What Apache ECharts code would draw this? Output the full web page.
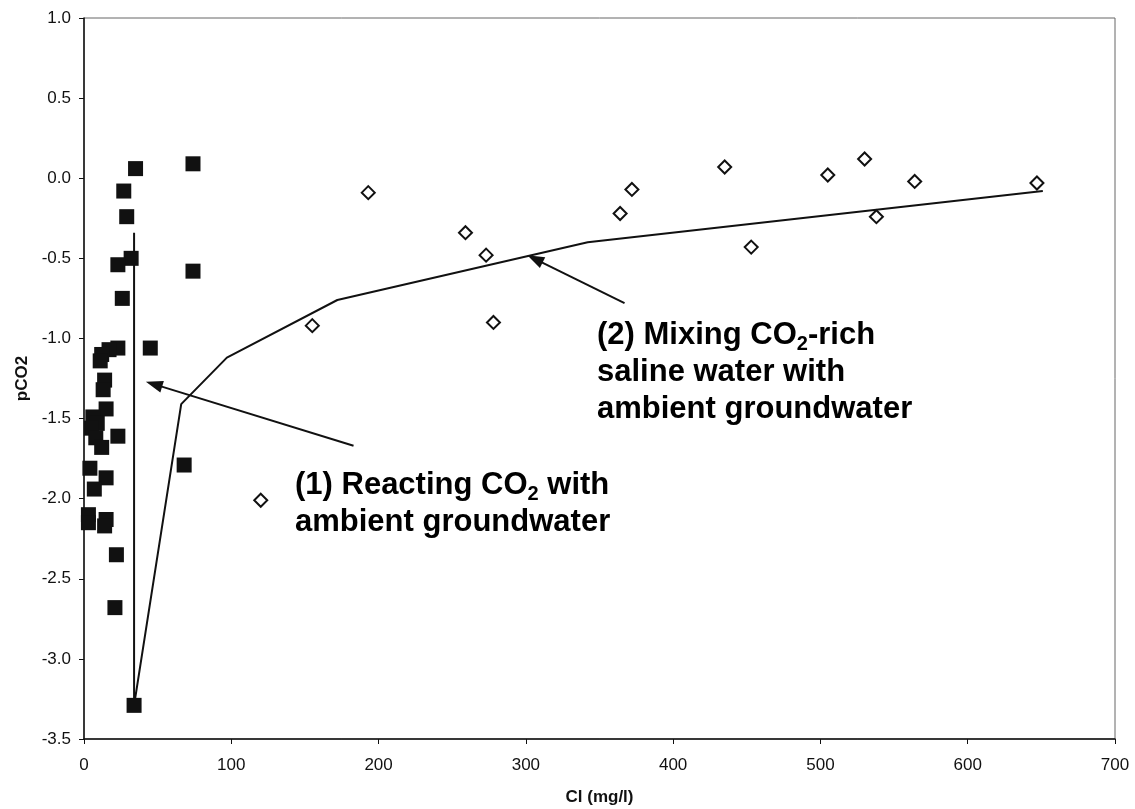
<!DOCTYPE html>
<html>
<head>
<meta charset="utf-8">
<script src="https://cdn.jsdelivr.net/npm/echarts@6/dist/echarts.min.js"></script>
<style>
  html, body { margin: 0; padding: 0; background: #fff; }
  #chart { width: 1135px; height: 809px; }
</style>
</head>
<body>
<div id="chart"></div>
<script>
// Samples affected by CO2 reaction (filled squares)
const reactCl   = [35, 74, 27, 29, 32, 23, 74, 26, 45, 23, 17, 12, 11, 14, 13, 15, 6, 9, 5, 8, 12, 23, 4, 15, 7, 68, 3, 3, 15, 14, 22, 21, 34];
const reactPco2 = [0.06, 0.09, -0.08, -0.24, -0.50, -0.54, -0.58, -0.75, -1.06, -1.06, -1.07, -1.10, -1.14, -1.26, -1.32, -1.44, -1.49, -1.53, -1.56, -1.62, -1.68, -1.61, -1.81, -1.87, -1.94, -1.79, -2.10, -2.15, -2.13, -2.17, -2.35, -2.68, -3.29];

// Saline-mixing samples (open diamonds)
const mixSampleCl   = [193, 259, 273, 372, 364, 155, 278, 435, 505, 530, 564, 647, 538, 453, 120];
const mixSamplePco2 = [-0.09, -0.34, -0.48, -0.07, -0.22, -0.92, -0.90, 0.07, 0.02, 0.12, -0.02, -0.03, -0.24, -0.43, -2.01];

// Reaction path: vertical at constant Cl
const reactPathCl   = [34, 34];
const reactPathPco2 = [-3.29, -0.34];

// Mixing curve
const mixCurveCl   = [34, 66, 97, 172, 342, 651];
const mixCurvePco2 = [-3.29, -1.41, -1.12, -0.76, -0.40, -0.08];

// Annotation arrows: [tail Cl, tail pCO2, head Cl, head pCO2]
const arrow1 = [183, -1.67, 42, -1.27];
const arrow2 = [367, -0.78, 301, -0.48];

// Axis ticks
const xTicks = { min: 0, max: 700, step: 100 };
const yTicks = { min: -3.5, max: 1.0, step: 0.5 };

const zip = (xs, ys) => xs.map((x, i) => [x, ys[i]]);

const labelFont = 'Liberation Sans, Arial, sans-serif';
const chart = echarts.init(document.getElementById('chart'), null, { renderer: 'canvas' });

const txt = { fontSize: 31, fontWeight: 'bold', fontFamily: labelFont, color: '#111', lineHeight: 37 };
const sub = { fontSize: 20, fontWeight: 'bold', fontFamily: labelFont, color: '#111', lineHeight: 22, verticalAlign: 'bottom' };

// Straight arrow with a solid triangular head, laid out in pixel space
function renderArrow(params, api) {
  const p1 = api.coord([api.value(0), api.value(1)]);
  const p2 = api.coord([api.value(2), api.value(3)]);
  const dx = p2[0] - p1[0], dy = p2[1] - p1[1];
  const len = Math.sqrt(dx * dx + dy * dy) || 1;
  const ux = dx / len, uy = dy / len;
  const headLen = 17, halfW = 6;
  const bx = p2[0] - ux * headLen, by = p2[1] - uy * headLen;
  return {
    type: 'group',
    children: [
      { type: 'line', shape: { x1: p1[0], y1: p1[1], x2: bx + ux * 2, y2: by + uy * 2 },
        style: { stroke: '#111', lineWidth: 2 } },
      { type: 'polygon',
        shape: { points: [[p2[0], p2[1]], [bx - uy * halfW, by + ux * halfW], [bx + uy * halfW, by - ux * halfW]] },
        style: { fill: '#111' } }
    ]
  };
}

chart.setOption({
  animation: false,
  backgroundColor: '#fff',
  grid: {
    left: 84, right: 20, top: 18, bottom: 70,
    containLabel: false, outerBoundsMode: 'none',
    show: true, borderColor: '#666', borderWidth: 1
  },
  xAxis: {
    type: 'value', min: xTicks.min, max: xTicks.max, interval: xTicks.step,
    name: 'Cl (mg/l)', nameLocation: 'middle', nameGap: 50,
    nameTextStyle: { fontSize: 17, fontWeight: 'bold', fontFamily: labelFont, color: '#111' },
    axisLine: { show: true, onZero: false, lineStyle: { color: '#111', width: 1.5 } },
    axisTick: { show: true, length: 5, lineStyle: { color: '#111' } },
    axisLabel: { fontSize: 17, fontFamily: labelFont, color: '#111', margin: 18 },
    splitLine: { show: false }
  },
  yAxis: {
    type: 'value', min: yTicks.min, max: yTicks.max, interval: yTicks.step,
    name: 'pCO2', nameLocation: 'middle', nameGap: 52,
    nameTextStyle: { fontSize: 17, fontWeight: 'bold', fontFamily: labelFont, color: '#111' },
    axisLine: { show: true, onZero: false, lineStyle: { color: '#111', width: 1.5 } },
    axisTick: { show: true, length: 5, lineStyle: { color: '#111' } },
    axisLabel: { fontSize: 17, fontFamily: labelFont, color: '#111', margin: 13, formatter: v => v.toFixed(1) },
    splitLine: { show: false }
  },
  series: [
    {
      type: 'line', data: zip(reactPathCl, reactPathPco2), showSymbol: false, z: 2,
      lineStyle: { color: '#111', width: 2 }
    },
    {
      type: 'line', data: zip(mixCurveCl, mixCurvePco2), showSymbol: false, z: 2,
      lineStyle: { color: '#111', width: 2 }
    },
    {
      type: 'custom', z: 3, renderItem: renderArrow,
      encode: { x: [0, 2], y: [1, 3] },
      data: [arrow1, arrow2]
    },
    {
      type: 'scatter', data: zip(mixSampleCl, mixSamplePco2), z: 4,
      symbol: 'diamond', symbolSize: 13,
      itemStyle: { color: '#fff', borderColor: '#111', borderWidth: 2, opacity: 1 }
    },
    {
      type: 'scatter', data: zip(reactCl, reactPco2), z: 5,
      symbol: 'rect', symbolSize: 15,
      itemStyle: { color: '#111', opacity: 1 }
    }
  ],
  graphic: [
    {
      type: 'text', left: 597, top: 320, z: 10,
      style: {
        text: '{a|(2) Mixing CO}{s|2}{a|-rich}\n{a|saline water with}\n{a|ambient groundwater}',
        rich: { a: txt, s: sub }
      }
    },
    {
      type: 'text', left: 295, top: 470, z: 10,
      style: {
        text: '{a|(1) Reacting CO}{s|2}{a| with}\n{a|ambient groundwater}',
        rich: { a: txt, s: sub }
      }
    }
  ]
});
</script>
</body>
</html>
